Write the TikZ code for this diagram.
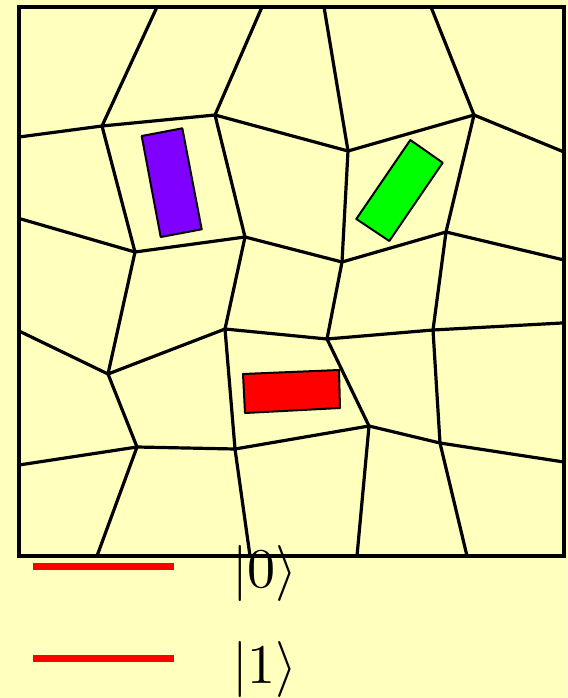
\documentclass[tikz,border=0pt]{standalone}
\definecolor{bg}{RGB}{255,255,190}
\definecolor{purp}{RGB}{128,0,255}
\definecolor{grn}{RGB}{0,255,0}
\definecolor{rd}{RGB}{255,0,0}
\begin{document}
\begin{tikzpicture}[x=1pt,y=-1pt,
  edge/.style={line width=3.2pt,line cap=round,line join=round},
  blob/.style={line width=2pt,line join=round,draw=black},
  level/.style={line width=7pt,draw=rd},
  ket/.style={inner sep=0pt}]
\useasboundingbox (0,0) rectangle (567,698);
\fill[bg] (0,0) rectangle (567,698);
% boundary points
\coordinate (t1) at (157,7);  \coordinate (t2) at (262,7);
\coordinate (t3) at (324,7);  \coordinate (t4) at (431,7);
\coordinate (b1) at (97,556); \coordinate (b2) at (250,556);
\coordinate (b3) at (357,556);\coordinate (b4) at (467,556);
\coordinate (l1) at (19,137); \coordinate (l2) at (21,219);
\coordinate (l3) at (19,331); \coordinate (l4) at (19,465);
\coordinate (r1) at (564,152);\coordinate (r2) at (564,260);
\coordinate (r3) at (562,323);\coordinate (r4) at (564,462);
% interior vertices
\coordinate (A) at (102,126); \coordinate (B) at (215,115);
\coordinate (C) at (348,151); \coordinate (D) at (474,115);
\coordinate (E) at (135,252); \coordinate (F) at (245,237);
\coordinate (G) at (342,262); \coordinate (H) at (446,232);
\coordinate (I) at (108,374); \coordinate (J) at (225,329);
\coordinate (K) at (327,339); \coordinate (L) at (433,330);
\coordinate (M) at (137,447); \coordinate (N) at (235,449);
\coordinate (O) at (369,426); \coordinate (P) at (440,443);
% cell edges
\draw[edge] (t1)--(A) (t2)--(B) (t3)--(C) (t4)--(D);
\draw[edge] (l1)--(A)--(B)--(C)--(D)--(r1);
\draw[edge] (A)--(E) (B)--(F) (C)--(G) (D)--(H);
\draw[edge] (l2)--(E)--(F)--(G)--(H)--(r2);
\draw[edge] (E)--(I) (F)--(J) (G)--(K) (H)--(L);
\draw[edge] (l3)--(I)--(J)--(K)--(L)--(r3);
\draw[edge] (I)--(M) (J)--(N) (K)--(O) (L)--(P);
\draw[edge] (l4)--(M)--(N)--(O)--(P)--(r4);
\draw[edge] (M)--(b1) (N)--(b2) (O)--(b3) (P)--(b4);
% domains
\filldraw[blob,fill=purp] (141.7,136)--(182.3,128.3)--(201.7,229.3)--(160.7,237)--cycle;
\filldraw[blob,fill=grn] (410.3,140)--(442.7,162.7)--(389.3,241)--(356.3,219)--cycle;
\filldraw[blob,fill=rd] (243,374)--(339,370)--(340,408)--(245,413)--cycle;
% frame
\draw[line width=3.2pt] (19,7) rectangle (564,556);
% levels
\coordinate (s0) at (33,566); \coordinate (e0) at (174,566);
\coordinate (s1) at (33,658); \coordinate (e1) at (174,658);
\draw[level] (s0)--(e0);
\draw[level] (s1)--(e1);
\node[ket] (k0) at (265,573.5) {\scalebox{5.6}{$|0\rangle$}};
\node[ket] (k1) at (265,669.5) {\scalebox{5.6}{$|1\rangle$}};
\end{tikzpicture}
\end{document}
